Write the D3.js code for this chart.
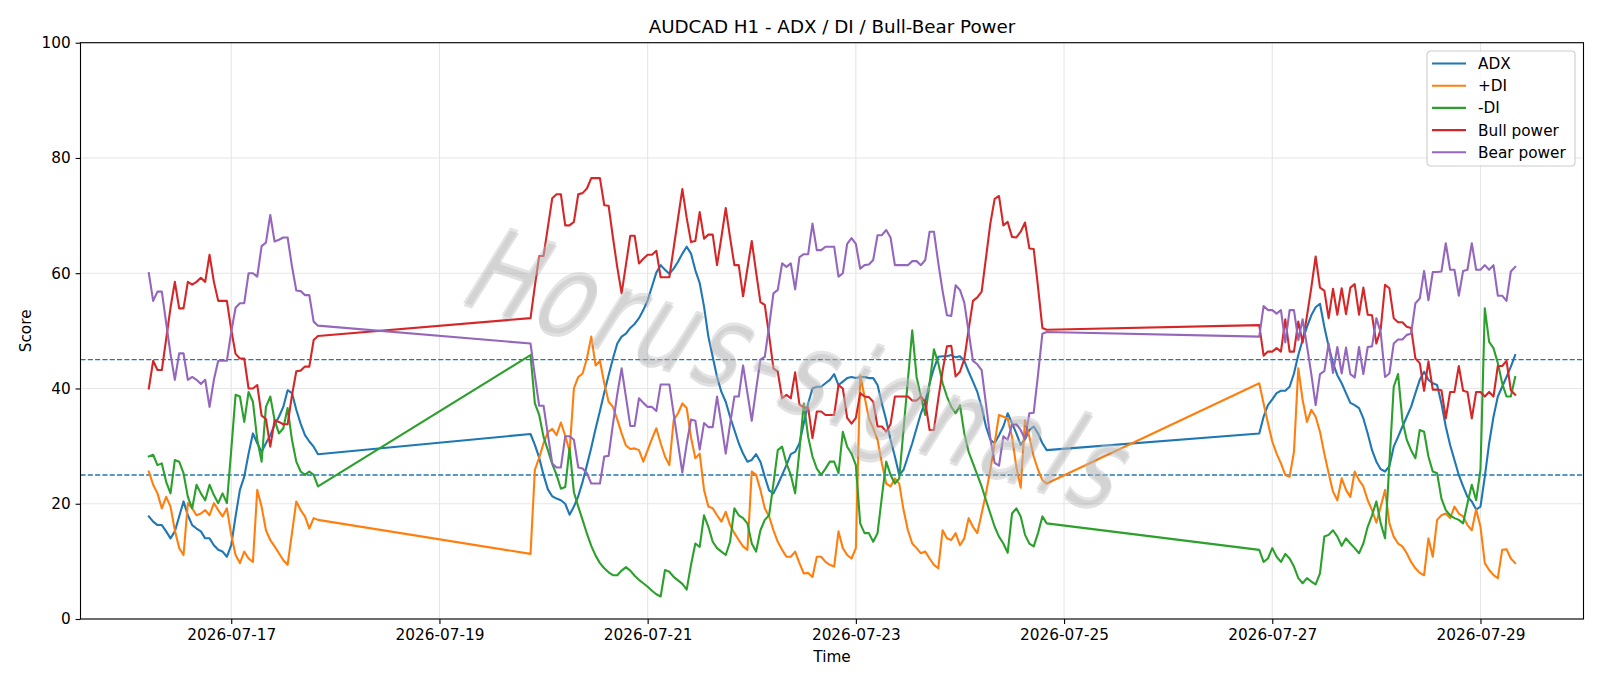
<!DOCTYPE html>
<html>
<head>
<meta charset="utf-8">
<script src="https://cdn.jsdelivr.net/npm/d3@7"></script>
<style>
  body { margin: 0; background: #fff; }
  svg { display: block; font-family: "DejaVu Sans", sans-serif; }
</style>
</head>
<body>
<div class="chart"></div>
<script>
// hourly sessions (weekend gaps are simply joined by the line, like matplotlib does)
const sessionStarts = ["2026-07-16T05:00", "2026-07-19T21:00", "2026-07-26T21:00"];
const sessionLengths = [40, 120, 60];

const adx = [
  17.8,16.9,16.3,16.3,15.2,14.0,15.2,17.8,20.4,18.0,16.3,15.7,15.2,14.0,14.0,12.8,12.0,11.7,10.8,12.8,
  17.8,22.4,24.7,28.7,32.2,30.5,29.0,30.5,31.9,33.7,35.1,36.8,39.7,39.2,36.3,33.9,31.9,30.8,29.9,28.6,
  32.1,30.2,28.0,25.0,22.5,21.3,20.9,20.6,20.0,18.1,19.5,21.3,23.8,26.7,29.7,33.0,36.1,39.3,42.3,45.2,
  47.8,49.0,49.5,50.5,51.2,52.2,53.6,55.3,57.7,60.1,61.4,60.6,59.9,60.8,62.0,63.4,64.6,63.4,60.5,58.3,
  54.2,49.0,45.5,42.0,39.4,37.7,35.1,32.8,30.5,28.7,27.3,27.6,28.6,27.3,24.7,22.3,21.8,23.3,25.0,26.7,
  28.6,29.0,30.5,34.0,37.4,40.0,40.3,40.3,40.9,41.5,42.5,40.6,41.2,41.8,42.0,41.8,42.0,42.0,41.8,41.8,
  40.6,37.4,34.5,31.1,28.2,25.0,25.9,28.2,30.5,33.1,35.7,37.7,40.9,43.5,45.5,45.6,45.6,45.8,45.4,45.6,
  44.8,42.9,41.2,39.4,36.8,33.4,31.1,30.5,31.9,33.4,35.7,34.0,32.2,30.2,31.2,32.8,33.4,32.2,30.5,29.3,
  32.2,35.1,37.1,38.1,39.2,39.6,39.6,40.3,42.6,45.8,48.4,50.7,52.7,54.1,54.7,50.7,47.3,44.4,42.3,40.9,
  39.2,37.5,37.1,36.6,34.8,32.2,29.3,27.3,26.0,25.6,26.5,29.9,31.6,33.4,35.1,36.8,39.2,41.5,42.9,41.5,
  40.9,40.6,37.4,33.4,30.2,27.6,25.0,23.0,21.2,20.4,19.0,19.5,24.7,30.5,35.1,38.6,40.3,42.0,43.8,45.8
];

const plusDI = [
  25.6,23.3,21.8,19.2,21.2,19.5,15.4,12.3,11.1,20.1,19.2,18.0,18.3,18.9,18.0,20.1,18.9,17.8,19.2,14.6,
  11.1,9.7,11.7,10.5,9.9,22.4,19.5,15.4,13.7,12.6,11.4,10.2,9.4,14.9,20.4,18.9,17.8,15.7,17.5,17.2,
  11.3,25.9,28.0,30.5,32.4,33.0,31.9,34.1,31.8,29.1,40.0,42.0,42.6,45.2,49.0,44.0,44.8,40.9,37.7,36.8,
  34.6,32.2,30.1,29.5,29.6,29.3,27.3,29.3,31.3,33.1,30.5,28.2,26.7,34.5,35.7,37.4,36.6,31.5,27.9,28.7,
  22.4,19.5,19.2,18.0,16.9,18.6,16.3,14.9,13.7,12.6,12.0,25.6,25.0,22.4,19.2,17.8,15.4,13.4,12.0,10.8,
  10.8,11.7,9.7,7.9,8.0,7.3,10.8,10.8,9.9,9.4,9.1,15.2,12.3,11.1,10.5,12.3,42.3,38.6,34.8,33.1,
  31.1,27.0,23.5,23.0,24.4,23.5,18.9,15.4,13.1,12.3,11.4,11.7,10.5,9.4,8.8,15.4,14.0,13.7,14.9,12.8,
  14.0,17.5,16.0,14.9,18.3,21.8,25.9,30.5,35.4,35.1,34.8,31.6,26.4,22.8,34.5,31.6,28.2,25.9,24.1,23.5,
  40.9,37.4,34.0,30.8,28.7,27.0,25.0,24.7,29.0,43.5,38.0,34.2,36.3,35.1,32.5,28.7,25.3,22.1,20.6,24.4,
  22.4,21.2,25.6,24.1,23.0,20.6,18.9,16.7,19.5,22.4,16.6,14.3,13.1,12.6,11.4,9.9,8.8,8.0,7.6,14.0,
  10.8,17.2,18.0,18.3,17.5,19.5,18.3,17.8,16.3,15.4,19.0,16.0,9.7,8.5,7.6,7.1,12.0,12.1,10.5,9.7
];

const minusDI = [
  28.2,28.5,26.7,27.0,23.8,21.8,27.6,27.3,25.3,21.2,19.2,23.3,21.8,20.6,23.3,21.5,20.1,21.8,20.1,29.3,
  38.9,38.6,34.2,39.4,37.7,31.1,27.3,36.8,38.6,34.5,32.2,33.1,36.6,31.1,27.3,25.6,25.0,25.6,25.0,23.0,
  45.8,37.4,35.4,31.6,29.3,26.9,25.0,22.6,22.9,29.7,22.0,19.5,17.2,14.8,12.7,11.0,9.7,8.8,8.1,7.6,
  7.6,8.4,9.0,8.4,7.5,6.8,6.2,5.6,4.9,4.3,3.9,8.5,8.2,7.3,6.7,6.1,5.1,9.4,13.1,12.5,
  18.0,16.0,13.4,12.3,11.7,11.1,13.4,19.2,18.0,17.5,16.6,13.1,11.7,15.4,17.2,18.0,23.5,29.3,29.9,27.0,
  25.0,21.8,29.3,37.4,31.6,28.2,26.1,25.0,26.1,27.3,27.3,25.3,32.5,29.9,28.7,26.7,16.6,14.9,14.9,13.4,
  14.9,21.2,27.3,25.0,23.5,24.4,33.0,41.5,50.1,42.0,38.6,35.4,40.9,46.8,44.4,40.9,38.6,36.8,35.7,37.1,
  32.2,29.0,27.0,25.0,23.0,20.6,18.3,16.0,14.3,13.1,11.5,18.3,19.2,17.8,14.6,13.1,12.6,14.9,17.8,16.6,
  12.0,9.9,10.5,12.3,10.8,9.9,11.3,10.5,9.1,7.1,6.2,7.1,6.5,6.0,7.9,14.3,14.6,15.4,14.3,12.7,
  14.0,13.1,12.3,11.4,13.1,16.0,18.0,20.4,16.6,14.0,27.0,40.3,42.5,34.5,31.1,29.3,27.9,32.8,32.5,28.2,
  25.6,25.3,20.9,18.9,18.0,17.5,17.2,16.6,20.1,23.3,20.6,25.9,53.9,48.1,47.0,44.4,40.9,38.6,38.6,42.0
];

const bullPower = [
  40.0,44.8,43.2,43.2,48.6,54.0,58.5,53.9,53.9,58.5,58.0,58.5,59.2,58.5,63.2,58.5,55.2,55.2,55.2,50.2,
  46.0,45.2,45.2,40.0,40.0,40.6,35.3,34.7,29.9,34.5,34.2,33.8,33.8,38.8,43.0,43.1,43.8,43.8,48.4,49.1,
  52.2,57.8,63.0,63.0,68.0,73.0,73.7,73.7,68.3,68.3,68.9,73.7,73.9,74.7,76.5,76.5,76.5,71.8,71.7,66.2,
  61.0,56.5,61.5,66.5,66.5,61.7,62.5,63.2,63.2,63.9,59.3,59.3,59.3,64.4,69.5,74.6,69.6,65.4,65.6,70.6,
  66.0,66.7,66.7,61.4,66.2,71.3,66.2,61.4,61.4,56.0,60.8,65.6,60.2,55.0,54.5,49.2,43.5,42.9,38.3,38.9,
  38.3,42.8,37.2,36.7,36.7,31.4,36.0,36.0,35.4,35.4,35.4,40.6,40.0,34.9,33.9,34.9,39.2,38.6,38.5,37.7,
  33.4,33.4,32.5,33.8,38.6,38.6,38.6,38.6,37.9,37.9,38.6,37.7,32.8,32.8,38.2,43.1,47.3,47.4,42.1,42.9,
  45.1,50.2,55.2,55.8,56.8,62.7,68.6,72.9,73.4,68.3,68.9,66.3,66.2,67.2,68.8,64.3,64.2,57.6,50.5,50.2,
  51.0,45.7,46.4,46.4,47.0,46.4,52.0,46.4,46.4,51.6,48.0,52.6,57.5,62.9,57.5,57.0,52.2,57.3,52.8,57.4,
  52.9,57.5,58.1,52.8,57.5,52.8,52.7,47.8,50.3,58.0,57.4,52.2,51.5,51.5,50.7,50.5,45.2,44.4,39.6,44.7,
  39.8,39.8,39.7,34.8,39.4,39.4,43.9,39.6,39.4,34.8,39.4,39.4,38.6,39.4,38.6,43.9,43.9,44.8,39.7,38.9
];

const bearPower = [
  60.0,55.2,56.8,56.8,51.4,46.0,41.5,46.1,46.1,41.5,42.0,41.5,40.8,41.5,36.8,41.5,44.8,44.8,44.8,49.8,
  54.0,54.8,54.8,60.0,60.0,59.4,64.7,65.3,70.1,65.5,65.8,66.2,66.2,61.2,57.0,56.9,56.2,56.2,51.6,50.9,
  47.8,42.2,37.0,37.0,32.0,27.0,26.3,26.3,31.7,31.7,31.1,26.3,26.1,25.3,23.5,23.5,23.5,28.2,28.3,33.8,
  39.0,43.5,38.5,33.5,33.5,38.3,37.5,36.8,36.8,36.1,40.7,40.7,40.7,35.6,30.5,25.4,30.4,34.6,34.4,29.4,
  34.0,33.3,33.3,38.6,33.8,28.7,33.8,38.6,38.6,44.0,39.2,34.4,39.8,45.0,45.5,50.8,56.5,57.1,61.7,61.1,
  61.7,57.2,62.8,63.3,63.3,68.6,64.0,64.0,64.6,64.6,64.6,59.4,60.0,65.1,66.1,65.1,60.8,61.4,61.5,62.3,
  66.6,66.6,67.5,66.2,61.4,61.4,61.4,61.4,62.1,62.1,61.4,62.3,67.2,67.2,61.8,56.9,52.7,52.6,57.9,57.1,
  54.9,49.8,44.8,44.2,43.2,37.3,31.4,27.1,26.6,31.7,31.1,33.7,33.8,32.8,31.2,35.7,35.8,42.4,49.5,49.8,
  49.0,54.3,53.6,53.6,53.0,53.6,48.0,53.6,53.6,48.4,52.0,47.4,42.5,37.1,42.5,43.0,47.8,42.7,47.2,42.6,
  47.1,42.5,41.9,47.2,42.5,47.2,47.3,52.2,49.7,42.0,42.6,47.8,48.5,48.5,49.3,49.5,54.8,55.6,60.4,55.3,
  60.2,60.2,60.3,65.2,60.6,60.6,56.1,60.4,60.6,65.2,60.6,60.6,61.4,60.6,61.4,56.1,56.1,55.2,60.3,61.1
];

const seriesNames = ["ADX", "+DI", "-DI", "Bull power", "Bear power"];
const seriesColors = ["#1f77b4", "#ff7f0e", "#2ca02c", "#d62728", "#9467bd"];
const refLevels = [25, 45];
const yTicks = [0, 20, 40, 60, 80, 100];
const xTickLabels = ["2026-07-17", "2026-07-19", "2026-07-21", "2026-07-23", "2026-07-25", "2026-07-27", "2026-07-29"];
const watermark = "Horus-signals";

let svgWidth = 1600;
let svgHeight = 686;

let margin = { top: 42.7, right: 16.5, bottom: 67, left: 80.5 };

let width = svgWidth - margin.left - margin.right;
let height = svgHeight - margin.top - margin.bottom;

let parseTime = d3.utcParse("%Y-%m-%dT%H:%M");
let parseDay = d3.utcParse("%Y-%m-%d");

// build the hourly time stamps for each session
let times = [];
sessionStarts.forEach((s, i) => {
  let t0 = parseTime(s);
  for (let k = 0; k < sessionLengths[i]; k++) times.push(d3.utcHour.offset(t0, k));
});

let allSeries = [adx, plusDI, minusDI, bullPower, bearPower].map((vals, i) => ({
  name: seriesNames[i],
  color: seriesColors[i],
  points: vals.map((v, j) => ({ t: times[j], v: v }))
}));

let svg = d3.select(".chart")
  .append("svg")
  .attr("width", svgWidth)
  .attr("height", svgHeight);

svg.append("rect").attr("width", svgWidth).attr("height", svgHeight).attr("fill", "#fff");

let chartGroup = svg.append("g")
  .attr("transform", `translate(${margin.left}, ${margin.top})`);

// matplotlib style 5% padding on the time axis
let tExt = d3.extent(times);
let pad = (tExt[1] - tExt[0]) * 0.05;
let xScale = d3.scaleUtc()
  .domain([new Date(+tExt[0] - pad), new Date(+tExt[1] + pad)])
  .range([0, width]);

let yScale = d3.scaleLinear()
  .domain([0, 100])
  .range([height, 0]);

let xTicks = xTickLabels.map(parseDay);

// grid
chartGroup.append("g")
  .selectAll("line.gx")
  .data(xTicks)
  .enter()
  .append("line")
  .attr("x1", d => xScale(d)).attr("x2", d => xScale(d))
  .attr("y1", 0).attr("y2", height)
  .attr("stroke", "#e6e6e6").attr("stroke-width", 1.1);

chartGroup.append("g")
  .selectAll("line.gy")
  .data(yTicks)
  .enter()
  .append("line")
  .attr("x1", 0).attr("x2", width)
  .attr("y1", d => yScale(d)).attr("y2", d => yScale(d))
  .attr("stroke", "#e6e6e6").attr("stroke-width", 1.1);

// reference levels
chartGroup.selectAll("line.ref")
  .data(refLevels)
  .enter()
  .append("line")
  .attr("x1", 0).attr("x2", width)
  .attr("y1", d => yScale(d)).attr("y2", d => yScale(d))
  .attr("stroke", "#1f77b4")
  .attr("stroke-width", 1.4)
  .attr("stroke-dasharray", "5.1,2.2");

// series lines
let line = d3.line()
  .x(d => xScale(d.t))
  .y(d => yScale(d.v));

chartGroup.selectAll("path.series")
  .data(allSeries)
  .enter()
  .append("path")
  .attr("fill", "none")
  .attr("stroke", d => d.color)
  .attr("stroke-width", 2.1)
  .attr("stroke-linejoin", "round")
  .attr("stroke-linecap", "square")
  .attr("d", d => line(d.points));

// watermark sits on top of the lines, semi transparent
let wm = svg.append("g").attr("transform", "translate(455,300) rotate(18) skewX(-14) scale(0.88,1.18)");
wm.append("text")
  .attr("x", 2.5).attr("y", 2.5)
  .attr("font-size", 100)
  .attr("letter-spacing", 8)
  .attr("fill", "#7a7a7a")
  .attr("opacity", 0.22)
  .text(watermark);
wm.append("text")
  .attr("font-size", 100)
  .attr("letter-spacing", 8)
  .attr("fill", "#c4c4c4")
  .attr("opacity", 0.45)
  .text(watermark);

// axes
let bottomAxis = d3.axisBottom(xScale)
  .tickValues(xTicks)
  .tickFormat(d3.utcFormat("%Y-%m-%d"))
  .tickSizeOuter(0)
  .tickSize(4.9)
  .tickPadding(4.9);
let leftAxis = d3.axisLeft(yScale)
  .tickValues(yTicks)
  .tickSizeOuter(0)
  .tickSize(4.9)
  .tickPadding(4.9);

let gx = chartGroup.append("g")
  .attr("transform", `translate(0, ${height})`)
  .call(bottomAxis);
let gy = chartGroup.append("g")
  .call(leftAxis);

[gx, gy].forEach(g => {
  g.select(".domain").remove();
  g.selectAll("line").attr("stroke", "#000").attr("stroke-width", 1.1);
  g.selectAll("text")
    .attr("font-family", "DejaVu Sans")
    .attr("font-size", 15.3)
    .attr("fill", "#000");
});

// frame
chartGroup.append("rect")
  .attr("width", width).attr("height", height)
  .attr("fill", "none").attr("stroke", "#000").attr("stroke-width", 1.1);

// title and axis labels
svg.append("text")
  .attr("x", margin.left + width / 2).attr("y", 33)
  .attr("text-anchor", "middle")
  .attr("font-size", 18.3)
  .text("AUDCAD H1 - ADX / DI / Bull-Bear Power");

svg.append("text")
  .attr("x", margin.left + width / 2).attr("y", 662)
  .attr("text-anchor", "middle")
  .attr("font-size", 15.3)
  .text("Time");

svg.append("text")
  .attr("transform", `translate(31, ${margin.top + height / 2}) rotate(-90)`)
  .attr("text-anchor", "middle")
  .attr("font-size", 15.3)
  .text("Score");

// legend
let legend = svg.append("g").attr("transform", "translate(1427, 51)");
legend.append("rect")
  .attr("width", 148).attr("height", 115)
  .attr("rx", 3.5)
  .attr("fill", "#fff").attr("fill-opacity", 0.8)
  .attr("stroke", "#cccccc").attr("stroke-width", 1.1);

let items = legend.selectAll("g.item")
  .data(allSeries)
  .enter()
  .append("g")
  .attr("transform", (d, i) => `translate(0, ${12.5 + i * 22.2})`);
items.append("line")
  .attr("x1", 5).attr("x2", 39)
  .attr("stroke", d => d.color).attr("stroke-width", 2.1);
items.append("text")
  .attr("x", 51).attr("y", 5.5)
  .attr("font-size", 15.3)
  .text(d => d.name);
</script>
</body>
</html>
